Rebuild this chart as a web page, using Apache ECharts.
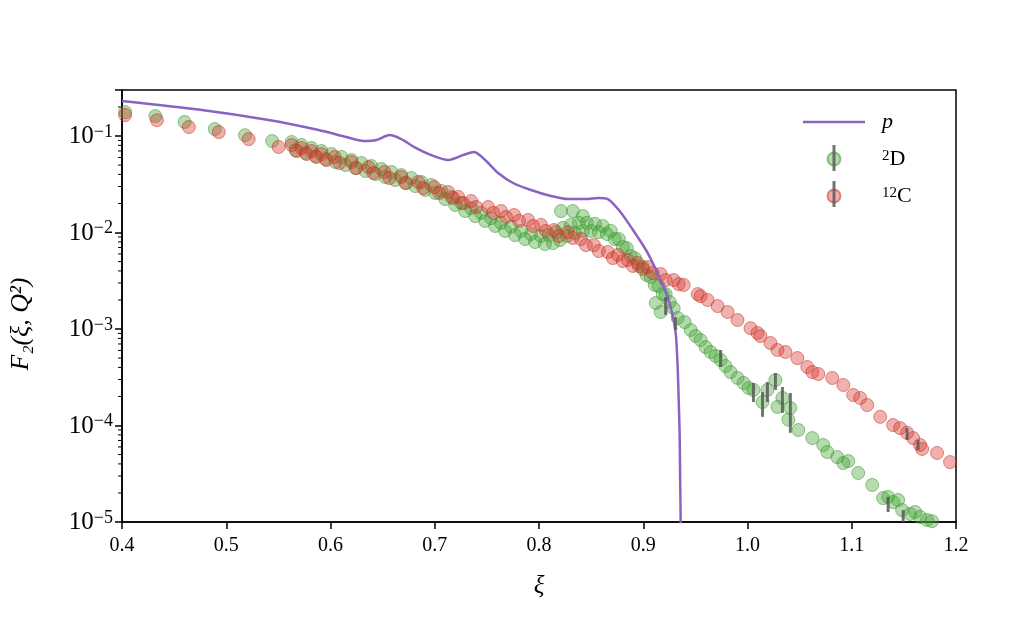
<!DOCTYPE html>
<html>
<head>
<meta charset="utf-8">
<script src="https://cdn.jsdelivr.net/npm/echarts@6/dist/echarts.min.js"></script>
<style>
  html, body { margin: 0; padding: 0; background: #fff; }
  #chart { width: 1024px; height: 640px; }
</style>
</head>
<body>
<div id="chart"></div>
<script>
// proton F2 curve (xi, F2)
var protonCurve = [
  [0.400, 0.2305], [0.4766, 0.186], [0.5407, 0.1465], [0.5885, 0.1154], [0.6153, 0.0976],
  [0.6316, 0.0888], [0.644, 0.0909], [0.6565, 0.1024], [0.6679, 0.0931], [0.6804, 0.0769],
  [0.6967, 0.0635], [0.7129, 0.0564], [0.7273, 0.0635], [0.7378, 0.0683], [0.7493, 0.0551],
  [0.7608, 0.0414], [0.7751, 0.0326], [0.7923, 0.0276], [0.8115, 0.0239], [0.8278, 0.0222],
  [0.845, 0.0222], [0.8565, 0.0228], [0.866, 0.0222], [0.8766, 0.0171], [0.888, 0.0115],
  [0.9043, 0.00613], [0.9196, 0.00272], [0.9263, 0.00169], [0.9311, 0.000909], [0.933, 0.000404],
  [0.934, 0.000183], [0.9349, 0.000084], [0.9354, 0.0000272], [0.9359, 0.00001], [0.936, 0.000001]
];

// deuteron data (xi, F2)
var deuteron = [
  [0.403, 0.177], [0.432, 0.161], [0.460, 0.140], [0.489, 0.118], [0.518, 0.102], [0.544, 0.0888],
  [0.5627, 0.0867], [0.5665, 0.0716], [0.5722, 0.0807], [0.5761, 0.0667], [0.5818, 0.0751], [0.5856, 0.062],
  [0.5914, 0.0699], [0.5952, 0.0578], [0.601, 0.0651], [0.6048, 0.0538], [0.6105, 0.0606], [0.6144, 0.0501],
  [0.6201, 0.0564], [0.6239, 0.0466], [0.6297, 0.0525], [0.6335, 0.0434], [0.6392, 0.0489], [0.6431, 0.0404],
  [0.6488, 0.0455], [0.6526, 0.0376], [0.6584, 0.0424], [0.6622, 0.035], [0.6679, 0.0394], [0.6718, 0.0326],
  [0.6775, 0.0367], [0.6813, 0.0303], [0.6871, 0.0334], [0.6909, 0.0276], [0.6967, 0.0311], [0.7005, 0.0257],
  [0.7062, 0.027], [0.71, 0.0222], [0.7158, 0.0234], [0.7196, 0.0193], [0.7254, 0.0202], [0.7292, 0.0167],
  [0.7349, 0.0179], [0.7388, 0.0148], [0.7445, 0.016], [0.7483, 0.0132], [0.7541, 0.0141], [0.7579, 0.0117],
  [0.7636, 0.0126], [0.7675, 0.0104], [0.7732, 0.0115], [0.777, 0.0094], [0.7828, 0.0104], [0.7866, 0.00856],
  [0.7923, 0.00965], [0.7962, 0.00797], [0.8019, 0.0092], [0.8057, 0.0076], [0.8096, 0.0094], [0.8134, 0.00778],
  [0.8163, 0.0101], [0.8201, 0.00836], [0.823, 0.0112], [0.8268, 0.0092], [0.8306, 0.012], [0.8344, 0.0099],
  [0.8383, 0.0126], [0.8421, 0.0104], [0.8459, 0.0126], [0.8498, 0.0104], [0.8536, 0.0123], [0.8574, 0.0101],
  [0.8612, 0.0117], [0.8651, 0.00965], [0.8689, 0.0104], [0.8727, 0.00856], [0.8766, 0.00856], [0.8804, 0.00708],
  [0.8842, 0.00691], [0.888, 0.00571], [0.8919, 0.00544], [0.8957, 0.0045], [0.8995, 0.00439], [0.9033, 0.00363],
  [0.9072, 0.00346], [0.911, 0.00286], [0.9148, 0.00279], [0.9187, 0.0023], [0.9215, 0.0023], [0.9254, 0.0019],
  [0.8211, 0.0167], [0.8325, 0.0167], [0.8421, 0.0148], [0.912, 0.00186], [0.9167, 0.0015],
  [0.9292, 0.00164], [0.933, 0.0013], [0.9397, 0.00118], [0.9455, 0.000977], [0.9502, 0.000846], [0.955, 0.000769],
  [0.9598, 0.000651], [0.9646, 0.000578], [0.9694, 0.000525], [0.9742, 0.000477], [0.9789, 0.000414], [0.9837, 0.000358],
  [0.9904, 0.000311], [0.9962, 0.000276], [1.001, 0.000245], [1.0057, 0.000234], [1.0144, 0.000175], [1.0191, 0.000234],
  [1.0268, 0.000296], [1.0287, 0.000156], [1.0335, 0.000193], [1.0392, 0.000115], [1.0411, 0.000152], [1.0488, 0.0000898],
  [1.0622, 0.0000741], [1.0727, 0.0000628], [1.0766, 0.0000531], [1.0861, 0.0000471], [1.0919, 0.0000408], [1.0967, 0.0000428],
  [1.1062, 0.0000322], [1.1196, 0.0000242], [1.1301, 0.0000177], [1.1349, 0.0000182], [1.1397, 0.0000161], [1.1445, 0.0000169],
  [1.1483, 0.0000133], [1.156, 0.0000121], [1.1608, 0.0000127], [1.1656, 0.0000113], [1.1722, 0.0000105], [1.177, 0.0000102]
];

// carbon-12 data (xi, F2)
var carbon = [
  [0.403, 0.165], [0.4335, 0.146], [0.4641, 0.124], [0.4928, 0.110], [0.5215, 0.093], [0.5502, 0.077],
  [0.5627, 0.0807], [0.5675, 0.0699], [0.5722, 0.0751], [0.577, 0.0651], [0.5818, 0.0699], [0.5866, 0.0606],
  [0.5914, 0.0651], [0.5962, 0.0564], [0.6038, 0.0606], [0.6086, 0.0525], [0.6201, 0.0538], [0.6249, 0.0466],
  [0.6364, 0.0477], [0.6411, 0.0414], [0.6517, 0.0424], [0.6565, 0.0367], [0.6679, 0.0376], [0.6727, 0.0326],
  [0.6842, 0.0334], [0.689, 0.0289], [0.6995, 0.0296], [0.7043, 0.0257], [0.7129, 0.0263], [0.7177, 0.0228],
  [0.7225, 0.0234], [0.7273, 0.0202], [0.7349, 0.0212], [0.7397, 0.0184], [0.7512, 0.0184], [0.756, 0.016],
  [0.7636, 0.0167], [0.7684, 0.0145], [0.7761, 0.0152], [0.7809, 0.0132], [0.7895, 0.0135], [0.7943, 0.0117],
  [0.8019, 0.012], [0.8067, 0.0104], [0.8144, 0.0106], [0.8191, 0.0092], [0.8278, 0.0101], [0.8325, 0.00877],
  [0.8402, 0.00856], [0.845, 0.00741], [0.8526, 0.00741], [0.8574, 0.00643], [0.866, 0.00628], [0.8708, 0.00544],
  [0.8756, 0.00585], [0.8804, 0.00506], [0.8852, 0.00519], [0.89, 0.0045], [0.8947, 0.00483], [0.8995, 0.00419],
  [0.9043, 0.00439], [0.9091, 0.0038], [0.9167, 0.00371], [0.9215, 0.00322], [0.9292, 0.00322], [0.934, 0.00292],
  [0.9388, 0.00286], [0.9522, 0.0023], [0.955, 0.00219], [0.9617, 0.002], [0.9713, 0.00173], [0.9809, 0.0015],
  [0.9904, 0.00124], [1.0029, 0.00102], [1.0096, 0.000909], [1.0124, 0.000846], [1.022, 0.000716], [1.0287, 0.000606],
  [1.0364, 0.000578], [1.0478, 0.0005], [1.0574, 0.000404], [1.0622, 0.000358], [1.0679, 0.000342], [1.0813, 0.000311],
  [1.0919, 0.000263], [1.1014, 0.000207], [1.1081, 0.000193], [1.1148, 0.000163], [1.1273, 0.000123], [1.1397, 0.000101],
  [1.1464, 0.000094], [1.1531, 0.000084], [1.1589, 0.0000741], [1.1656, 0.0000628], [1.1675, 0.0000571], [1.1818, 0.0000519],
  [1.1943, 0.0000418]
];

// error bars (xi, low, high)
var deuteronErr = [
  [0.9215, 0.0014, 0.00212], [0.9311, 0.000977, 0.00133], [0.9742, 0.000404, 0.000606],
  [1.0057, 0.000175, 0.000276], [1.0144, 0.000123, 0.000222], [1.0191, 0.000175, 0.000283],
  [1.0268, 0.000234, 0.00035], [1.0335, 0.000135, 0.000251], [1.0411, 0.000084, 0.000217],
  [1.1349, 0.0000127, 0.0000182], [1.1493, 0.00001, 0.0000133]
];
var carbonErr = [
  [1.1531, 0.0000708, 0.000094], [1.1636, 0.0000557, 0.0000708]
];

// minor log ticks on the y axis
var minorTicks = [];
[1e-5, 1e-4, 1e-3, 1e-2, 1e-1].forEach(function (d) {
  for (var k = 2; k <= 9; k++) {
    if (d * k <= 0.3) minorTicks.push([0.4, d * k]);
  }
});

var serif = 'Liberation Serif';
var errColor = 'rgba(90,90,90,0.85)';
var chart = echarts.init(document.getElementById('chart'));

function errRender(params, api) {
  var lo = api.coord([api.value(0), api.value(1)]);
  var hi = api.coord([api.value(0), api.value(2)]);
  return {
    type: 'line',
    shape: { x1: lo[0], y1: lo[1], x2: hi[0], y2: hi[1] },
    style: { stroke: errColor, lineWidth: 3 }
  };
}

var option = {
  animation: false,
  backgroundColor: '#fff',
  grid: { left: 120, right: 68, top: 90, bottom: 118, show: true, borderColor: '#000', borderWidth: 1.5 },
  legend: {
    orient: 'vertical',
    left: 798,
    top: 106,
    itemWidth: 62,
    itemHeight: 13,
    itemGap: 15,
    textStyle: {
      fontFamily: serif, fontSize: 22, color: '#000', lineHeight: 20, padding: [0, 0, 0, 12],
      rich: { s: { fontFamily: serif, fontSize: 15, verticalAlign: 'top', lineHeight: 20, color: '#000' } }
    },
    formatter: function (name) {
      if (name === 'D') return '{s|2}D';
      if (name === 'C') return '{s|12}C';
      return name;
    },
    data: [
      { name: 'p', icon: 'path://M0,0 L62,0 L62,2.6 L0,2.6 Z', textStyle: { fontStyle: 'italic' } },
      { name: 'D', icon: 'circle' },
      { name: 'C', icon: 'circle' }
    ]
  },
  graphic: [
    { type: 'line', shape: { x1: 834, y1: 145, x2: 834, y2: 171 }, style: { stroke: errColor, lineWidth: 3 }, z: 200 },
    { type: 'line', shape: { x1: 834, y1: 181, x2: 834, y2: 207 }, style: { stroke: errColor, lineWidth: 3 }, z: 200 }
  ],
  xAxis: {
    type: 'value',
    min: 0.4,
    max: 1.2,
    interval: 0.1,
    name: 'ξ',
    nameLocation: 'middle',
    nameGap: 52,
    nameTextStyle: { fontFamily: serif, fontSize: 25, fontStyle: 'italic', color: '#000' },
    axisLine: { lineStyle: { color: '#000', width: 1.5 } },
    axisTick: { inside: false, length: 7, lineStyle: { color: '#000', width: 1.5 } },
    axisLabel: {
      fontFamily: serif, fontSize: 20, color: '#000', margin: 14,
      formatter: function (v) { return v.toFixed(1); }
    },
    splitLine: { show: false }
  },
  yAxis: {
    type: 'log',
    logBase: 10,
    min: 1e-5,
    max: 0.3,
    name: 'F₂(ξ, Q²)',
    nameLocation: 'middle',
    nameGap: 88,
    nameRotate: 90,
    nameTextStyle: { fontFamily: serif, fontSize: 26, fontStyle: 'italic', color: '#000', padding: [0, 36, 0, 0] },
    axisLine: { lineStyle: { color: '#000', width: 1.5 } },
    axisTick: { inside: false, length: 7, lineStyle: { color: '#000', width: 1.5 } },
    axisLabel: {
      color: '#000', margin: 9,
      formatter: function (v) {
        var e = Math.log10(v);
        var r = Math.round(e);
        if (Math.abs(e - r) > 1e-6) return '';
        return '{b|10}{s|−' + (-r) + '}';
      },
      rich: {
        b: { fontFamily: serif, fontSize: 25, color: '#000', verticalAlign: 'bottom', lineHeight: 26 },
        s: { fontFamily: serif, fontSize: 18, color: '#000', verticalAlign: 'top', lineHeight: 26 }
      }
    },
    splitLine: { show: false }
  },
  series: [
    {
      name: 'p',
      type: 'line',
      data: protonCurve,
      symbol: 'none',
      showSymbol: false,
      smooth: 0.25,
      clip: true,
      lineStyle: { color: '#8a63c2', width: 2.5 },
      itemStyle: { color: '#8a63c2' },
      z: 5
    },
    {
      name: 'D',
      type: 'scatter',
      data: deuteron,
      symbol: 'circle',
      symbolSize: 13,
      itemStyle: { color: 'rgba(70,165,55,0.5)', borderColor: 'rgba(55,145,45,0.65)', borderWidth: 1 },
      z: 3
    },
    {
      name: 'C',
      type: 'scatter',
      data: carbon,
      symbol: 'circle',
      symbolSize: 13,
      itemStyle: { color: 'rgba(215,60,50,0.5)', borderColor: 'rgba(200,45,35,0.65)', borderWidth: 1 },
      z: 4
    },
    {
      name: 'D err',
      type: 'custom',
      data: deuteronErr,
      renderItem: errRender,
      z: 6
    },
    {
      name: 'C err',
      type: 'custom',
      data: carbonErr,
      renderItem: errRender,
      z: 6
    },
    {
      name: 'minor ticks',
      type: 'custom',
      data: minorTicks,
      silent: true,
      renderItem: function (params, api) {
        var p = api.coord([api.value(0), api.value(1)]);
        return {
          type: 'line',
          shape: { x1: p[0] - 4, y1: p[1], x2: p[0], y2: p[1] },
          style: { stroke: '#000', lineWidth: 1 }
        };
      }
    }
  ]
};

chart.setOption(option);
</script>
</body>
</html>
